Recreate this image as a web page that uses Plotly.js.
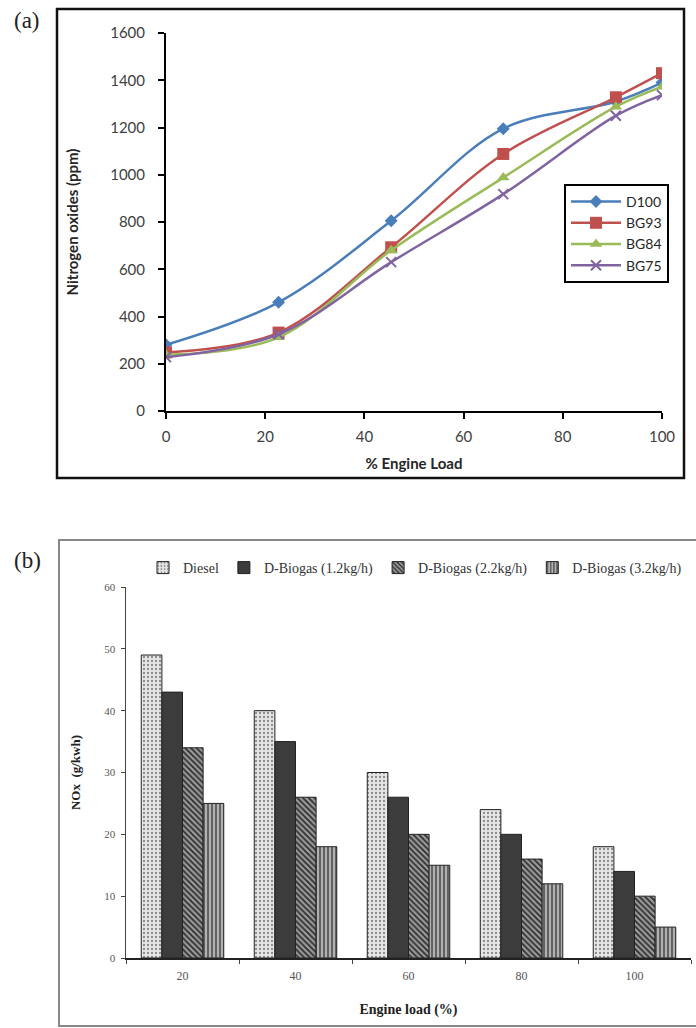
<!DOCTYPE html>
<html>
<head>
<meta charset="utf-8">
<script src="https://cdn.plot.ly/plotly-3.0.1.min.js"></script>
<style>html,body{margin:0;padding:0;background:#fff;}#chart{width:696px;height:1028px;}</style>
</head>
<body>
<div id="chart"></div>
<script>
// ---- Panel (a) data ----
const engineLoadA = [0, 22.7, 45.4, 68, 90.7, 100];
const d100 = [280, 460, 805, 1195, 1310, 1390];
const bg93 = [248, 332, 693, 1088, 1328, 1430];
const bg84 = [238, 312, 680, 988, 1288, 1373];
const bg75 = [228, 325, 630, 918, 1250, 1337];
const namesA = ['D100', 'BG93', 'BG84', 'BG75'];

// ---- Panel (b) data ----
const engineLoadB = ['20', '40', '60', '80', '100'];
const diesel = [49, 40, 30, 24, 18];
const dBiogas12 = [43, 35, 26, 20, 14];
const dBiogas22 = [34, 26, 20, 16, 10];
const dBiogas32 = [25, 18, 15, 12, 5];
const namesB = ['Diesel', 'D-Biogas (1.2kg/h)', 'D-Biogas (2.2kg/h)', 'D-Biogas (3.2kg/h)'];

const W = 696, H = 1028;
const px = v => v / W;
const py = v => 1 - v / H;

const colorsA = ['#4a7ebb', '#c0504d', '#9bbb59', '#8064a2'];
const symbolsA = ['diamond', 'square', 'triangle-up', 'x-thin-open'];
const sizesA = [10, 12, 11, 10];
const seriesA = [d100, bg93, bg84, bg75];

const traces = seriesA.map((ys, i) => ({
  type: 'scatter', mode: 'lines+markers',
  x: engineLoadA, y: ys, name: namesA[i],
  xaxis: 'x', yaxis: 'y', legend: 'legend',
  line: {color: colorsA[i], width: 2.5, shape: 'spline', smoothing: 1},
  marker: {symbol: symbolsA[i], size: sizesA[i], color: colorsA[i],
           line: {color: colorsA[i], width: i === 3 ? 2 : 0}}
}));

const patternsB = [
  {color: '#e6e6e6', pattern: {shape: '.', fgcolor: '#8a8a8a', bgcolor: '#e6e6e6', size: 4, solidity: 0.25}},
  {color: '#3c3c3c', pattern: {shape: ''}},
  {color: '#8a8a8a', pattern: {shape: '\\', fgcolor: '#2e2e2e', bgcolor: '#9a9a9a', size: 4, solidity: 0.45}},
  {color: '#9a9a9a', pattern: {shape: '|', fgcolor: '#5a5a5a', bgcolor: '#b0b0b0', size: 4, solidity: 0.45}}
];
const seriesB = [diesel, dBiogas12, dBiogas22, dBiogas32];
seriesB.forEach((ys, i) => {
  const m = {color: patternsB[i].color, line: {color: '#222', width: 1}};
  if (patternsB[i].pattern.shape) m.pattern = patternsB[i].pattern;
  traces.push({
    type: 'bar', x: engineLoadB, y: ys, name: namesB[i],
    xaxis: 'x2', yaxis: 'y2', legend: 'legend2',
    marker: m
  });
});

const sansFont = 'Lato, "Open Sans", sans-serif';
const serifFont = '"Liberation Serif", "DejaVu Serif", serif';

const layout = {
  width: W, height: H,
  margin: {l: 0, r: 0, t: 0, b: 0},
  paper_bgcolor: '#fff', plot_bgcolor: '#fff',
  showlegend: true,
  barmode: 'group', bargap: 0.27, bargroupgap: 0,
  xaxis: {
    domain: [px(166), px(662)], anchor: 'y',
    range: [0, 100], tickvals: [0, 20, 40, 60, 80, 100],
    showgrid: false, zeroline: false, showline: true, linecolor: '#000', linewidth: 2,
    ticks: 'outside', ticklen: 6, tickwidth: 2, tickcolor: '#000', ticklabelstandoff: 5,
    tickfont: {family: sansFont, size: 15, color: '#404040'},
    title: {text: '% Engine Load', font: {family: sansFont, size: 15, color: '#262626', weight: 'bold'}, standoff: 14}
  },
  yaxis: {
    domain: [py(411), py(33)], anchor: 'x',
    range: [0, 1600], tickvals: [0, 200, 400, 600, 800, 1000, 1200, 1400, 1600],
    showgrid: false, zeroline: false, showline: true, linecolor: '#000', linewidth: 2,
    ticks: 'outside', ticklen: 6, tickwidth: 2, tickcolor: '#000', ticklabelstandoff: 10,
    tickfont: {family: sansFont, size: 15, color: '#404040'},
    title: {text: 'Nitrogen oxides (ppm)', font: {family: sansFont, size: 15, color: '#262626', weight: 'bold'}, standoff: 28}
  },
  xaxis2: {
    domain: [px(126), px(691)], anchor: 'y2',
    type: 'category', range: [-0.5, 4.5],
    showgrid: false, zeroline: false, showline: true, linecolor: '#222', linewidth: 1.5,
    ticks: 'outside', tickson: 'boundaries', ticklen: 4, tickcolor: '#444', ticklabelstandoff: 6,
    tickfont: {family: serifFont, size: 12, color: '#555'},
    title: {text: 'Engine load (%)', font: {family: serifFont, size: 14, color: '#222', weight: 'bold'}, standoff: 22}
  },
  yaxis2: {
    domain: [py(958), py(587)], anchor: 'x2',
    range: [0, 60], tickvals: [0, 10, 20, 30, 40, 50, 60],
    showgrid: false, zeroline: false, showline: true, linecolor: '#444', linewidth: 1.5,
    ticks: 'outside', ticklen: 4, tickcolor: '#444', ticklabelstandoff: 3,
    tickfont: {family: serifFont, size: 11, color: '#555'},
    title: {text: 'NOx  (g/kwh)', font: {family: serifFont, size: 13, color: '#222', weight: 'bold'}, standoff: 20}
  },
  legend: {
    x: px(564), y: py(184), xanchor: 'left', yanchor: 'top',
    bgcolor: '#fff', bordercolor: '#000', borderwidth: 2,
    font: {family: sansFont, size: 14, color: '#262626'},
    itemwidth: 50, tracegroupgap: 0
  },
  legend2: {
    orientation: 'h', x: px(143), y: py(552), xanchor: 'left', yanchor: 'top',
    bgcolor: 'rgba(0,0,0,0)', borderwidth: 0,
    font: {family: serifFont, size: 14, color: '#333'},
    itemwidth: 30, traceorder: 'normal'
  },
  shapes: [
    {type: 'rect', xref: 'paper', yref: 'paper', x0: px(57), x1: px(684), y0: py(478), y1: py(9),
     line: {color: '#111', width: 2.5}, fillcolor: 'rgba(0,0,0,0)', layer: 'below'},
    {type: 'rect', xref: 'paper', yref: 'paper', x0: px(59), x1: px(702), y0: py(1026), y1: py(540),
     line: {color: '#888', width: 2}, fillcolor: 'rgba(0,0,0,0)', layer: 'below'}
  ],
  annotations: [
    {text: '(a)', xref: 'paper', yref: 'paper', x: px(12), y: py(20), xanchor: 'left', yanchor: 'middle',
     showarrow: false, font: {family: serifFont, size: 23, color: '#222'}},
    {text: '(b)', xref: 'paper', yref: 'paper', x: px(12), y: py(560), xanchor: 'left', yanchor: 'middle',
     showarrow: false, font: {family: serifFont, size: 23, color: '#222'}}
  ]
};

Plotly.newPlot('chart', traces, layout, {displayModeBar: false, staticPlot: true});
</script>
</body>
</html>
